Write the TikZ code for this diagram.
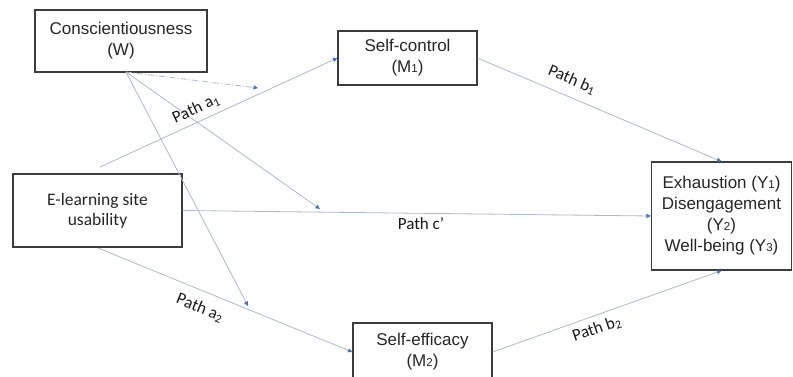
\documentclass[tikz,border=0pt]{standalone}
\usepackage{fontspec}
\setmainfont{Liberation Sans}
\newfontfamily\calfont{Carlito}
\usetikzlibrary{arrows.meta}
\definecolor{linecol}{HTML}{AEB9CB}
\definecolor{tipcol}{HTML}{4A72B0}
\definecolor{boxcol}{HTML}{3C3C3C}
\newcommand{\smd}[1]{{\fontsize{11.5}{11.5}\selectfont #1}}
\tikzset{
  box/.style={draw=boxcol, line width=1.1pt, fill=white, inner sep=0pt, align=center,
    font=\fontsize{17}{21}\selectfont, text=black!85},
  cbox/.style={box, font=\calfont\fontsize{17.5}{20}\selectfont},
  conn/.style={draw=linecol, line width=0.8pt, -{Triangle[length=4.5pt,width=4pt,color=tipcol]}},
  modconn/.style={conn, dash pattern=on 6pt off 2pt on 1pt off 2pt},
  plabel/.style={font=\calfont\fontsize{17}{19}\selectfont, text=black!90, inner sep=0pt}
}
\begin{document}
\begin{tikzpicture}[x=1pt,y=-1pt]
\useasboundingbox (0,0) rectangle (793,376);
\clip (0,0) rectangle (793,376);
\fill[white] (0,0) rectangle (793,376);

\coordinate (a1s) at (100,167);
\coordinate (a2s) at (98,248);
\coordinate (wb) at (126,72);
\coordinate (m1) at (258,88);
\coordinate (m2) at (320,209);
\coordinate (m3) at (248,306);

\node[box, minimum width=172, minimum height=62] (W) at (121,41) {Conscientiousness\\(W)};
\node[box, minimum width=139, minimum height=54] (M1) at (407.5,58) {Self-control\\(M\smd{1})};
\node[cbox, minimum width=169, minimum height=73] (X) at (97.5,210.5) {E-learning site\\usability};
\node[box, minimum width=140, minimum height=108] (Y) at (721.5,216) {Exhaustion (Y\smd{1})\\Disengagement\\(Y\smd{2})\\Well-being (Y\smd{3})};
\node[box, minimum width=139, minimum height=58] (M2) at (422.5,352) {Self-efficacy\\(M\smd{2})};

\draw[conn] (a1s) -- (M1.west);
\draw[conn] (M1.east) -- (Y.north);
\draw[conn] (X.east) -- (Y.west);
\draw[conn] (a2s) -- (M2.west);
\draw[conn] (M2.east) -- (Y.south);
\draw[modconn] (wb) -- (m1);
\draw[conn] (wb) -- (m2);
\draw[conn] (wb) -- (m3);

\node[plabel, rotate=25] (la1) at (196,109) {Path a\textsubscript{1}};
\node[plabel] (lc) at (421,224) {Path c’};
\node[plabel, rotate=-22] (la2) at (200,308) {Path a\textsubscript{2}};
\node[plabel, rotate=-23] (lb1) at (572,80) {Path b\textsubscript{1}};
\node[plabel, rotate=19] (lb2) at (597,329) {Path b\textsubscript{2}};
\end{tikzpicture}
\end{document}
